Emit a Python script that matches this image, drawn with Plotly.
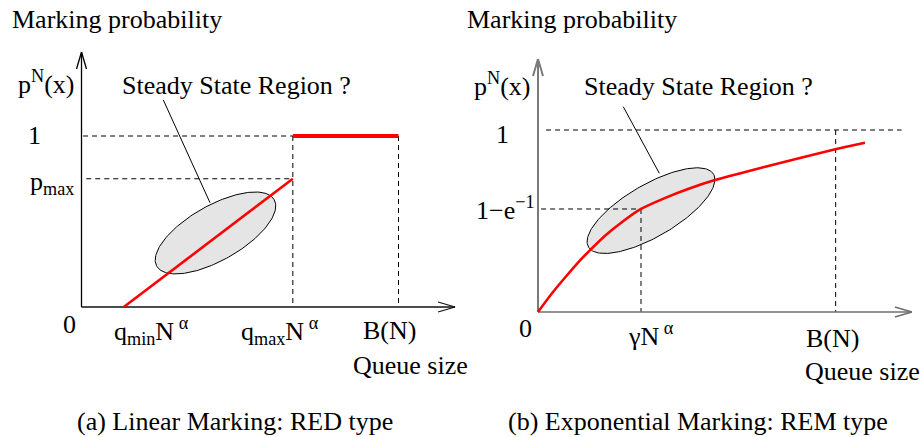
import numpy as np
import plotly.graph_objects as go

W, H = 924, 437
FONT = dict(family="Liberation Serif", size=26, color="black")

# ---------------- (a) Linear marking: RED type ----------------
red_q = [0.0, 0.4, 2.0, 3.0]                       # 0, q_min N^a, q_max N^a, B(N)
red_xticks = ["0", "q<sub>min</sub>N<sup> α</sup>", "q<sub>max</sub>N<sup> α</sup>", "B(N)"]
red_levels = [0.75, 1.0]                           # p_max, 1
red_yticks = ["p<sub>max</sub>", "1"]
red_ramp_x = [0.4, 2.0]
red_ramp_y = [0.0, 0.75]
red_flat_x = [2.0, 3.0]
red_flat_y = [1.0, 1.0]

# ---------------- (b) Exponential marking: REM type ----------------
rem_q = [0.0, 1.0, 2.89]                           # 0, gamma N^a, B(N)
rem_xticks = ["0", "γN<sup> α</sup>", "B(N)"]
rem_levels = [0.566, 1.0]                          # 1-e^-1, 1
rem_yticks = ["1−e<sup>−1</sup>", "1"]
rem_curve_x = [0.0, 0.136, 0.265, 0.395, 0.513, 0.659, 0.820, 1.0,
               1.236, 1.463, 1.702, 2.187, 2.886, 3.175]
rem_curve_y = [0.0, 0.103, 0.191, 0.276, 0.344, 0.423, 0.496, 0.566,
               0.627, 0.677, 0.722, 0.795, 0.894, 0.930]

# pixel geometry of the two panels (origin, pixels per unit, horizontal extent)
panels = {
    "a": dict(xa="x", ya="y", x0=81.5, y0=307.0, sx=105.67, sy=171.0, left=0, right=462),
    "b": dict(xa="x2", ya="y2", x0=538.0, y0=312.0, sx=103.0, sy=182.0, left=462, right=924),
}

fig = go.Figure()


def line(p, xs, ys, color="black", width=1.0, dash=None, shape="linear"):
    fig.add_trace(go.Scatter(
        x=xs, y=ys, mode="lines", xaxis=p["xa"], yaxis=p["ya"],
        line=dict(color=color, width=width, dash=dash, shape=shape, smoothing=0.8),
        hoverinfo="skip", showlegend=False))


def arrow(p, xa, ya, xb, yb, color="black", width=1.2, length=17.0, half=5.0):
    """Axis line from (xa, ya) to (xb, yb) with an open chevron head."""
    line(p, [xa, xb], [ya, yb], color=color, width=width)
    dx, dy = (xb - xa) * p["sx"], (yb - ya) * p["sy"]
    n = np.hypot(dx, dy)
    ux, uy = dx / n, dy / n
    vx, vy = -uy, ux
    hx, hy = [], []
    for s in (1, -1):
        bx = -length * ux + s * half * vx
        by = -length * uy + s * half * vy
        hx += [xb + bx / p["sx"], xb, None]
        hy += [yb + by / p["sy"], yb, None]
    line(p, hx, hy, color=color, width=width)


def region(p, cx, cy, a, b, tilt):
    """Shaded tilted ellipse; a, b are semi-axes in pixels."""
    t = np.linspace(0, 2 * np.pi, 200)
    th = np.radians(tilt)
    px = a * np.cos(t) * np.cos(th) - b * np.sin(t) * np.sin(th)
    py = a * np.cos(t) * np.sin(th) + b * np.sin(t) * np.cos(th)
    fig.add_trace(go.Scatter(
        x=cx + px / p["sx"], y=cy + py / p["sy"], mode="lines", fill="toself",
        fillcolor="#e5e5e5", line=dict(color="black", width=1),
        xaxis=p["xa"], yaxis=p["ya"], hoverinfo="skip", showlegend=False))


DASH = "5px,4px"

# ----- panel (a) -----
pa = panels["a"]
region(pa, 1.268, 0.433, 67.5, 27.5, 29.5)
line(pa, [0.015, red_q[2]], [red_levels[1]] * 2, dash=DASH)
line(pa, [0.045, red_q[2]], [red_levels[0]] * 2, dash=DASH)
line(pa, [red_q[2]] * 2, [red_levels[1], 0], dash=DASH)
line(pa, [red_q[3]] * 2, [red_levels[1], 0], dash=DASH)
line(pa, [0.774, 1.216], [1.211, 0.610], width=1)
arrow(pa, 0, 0, 3.535, 0, color="#111111", width=1.3)
arrow(pa, 0, 0, 0, 1.491, color="black", width=1.3)
line(pa, red_ramp_x, red_ramp_y, color="#ff0000", width=2.6)
line(pa, red_flat_x, red_flat_y, color="#ff0000", width=4)

# ----- panel (b) -----
pb = panels["b"]
region(pb, 1.097, 0.557, 72.4, 26.1, 30.2)
line(pb, [0.078, 3.53], [rem_levels[1]] * 2, dash=DASH)
line(pb, [rem_q[2]] * 2, [rem_levels[1], 0], dash=DASH)
line(pb, [0.03, rem_q[1]], [rem_levels[0]] * 2, dash=DASH)
line(pb, [rem_q[1]] * 2, [rem_levels[0], 0], dash=DASH)
line(pb, [0.828, 1.178], [1.128, 0.762], width=1)
arrow(pb, 0, 0, 3.63, 0, color="#6e6e6e", width=1.6)
arrow(pb, 0, 0, 0, 1.39, color="#7a7a7a", width=2.0)
line(pb, rem_curve_x, rem_curve_y, color="#ff0000", width=2.6, shape="spline")

# ----- text -----
ann = []


def txt(px, py, text):
    ann.append(dict(x=px / W, y=1 - py / H, xref="paper", yref="paper", text=text,
                    showarrow=False, xanchor="center", yanchor="middle", font=FONT))


def tick(p, x, y, text, dx, dy):
    ann.append(dict(x=x, y=y, xref=p["xa"], yref=p["ya"], text=text, showarrow=False,
                    xanchor="center", yanchor="middle", xshift=dx, yshift=dy, font=FONT))


txt(117, 20, "Marking probability")
txt(572, 20, "Marking probability")
txt(236, 85, "Steady State Region ?")
txt(698, 86, "Steady State Region ?")
txt(46, 82, "p<sup>N</sup>(x)")
txt(502, 84, "p<sup>N</sup>(x)")
txt(410, 365, "Queue size")
txt(862, 371, "Queue size")
txt(235, 421, "(a) Linear Marking: RED type")
txt(698, 421, "(b) Exponential Marking: REM type")

# tick labels of panel (a)
for q, lab, dx, dy in zip(red_q, red_xticks, [-12.5, 28, -13, -9.5], [-17, -24, -24, -23]):
    tick(pa, q, 0, lab, dx, dy)
for lv, lab, dx, dy in zip(red_levels, red_yticks, [-29.5, -47.5], [-4, 1]):
    tick(pa, 0, lv, lab, dx, dy)

# tick labels of panel (b)
for q, lab, dx, dy in zip(rem_q, rem_xticks, [-13, 10, -3.5], [-16, -22, -26]):
    tick(pb, q, 0, lab, dx, dy)
for lv, lab, dx, dy in zip(rem_levels, rem_yticks, [-33, -36], [0, -4]):
    tick(pb, 0, lv, lab, dx, dy)


def axis_range(p):
    xr = [(p["left"] - p["x0"]) / p["sx"], (p["right"] - p["x0"]) / p["sx"]]
    yr = [-(H - p["y0"]) / p["sy"], p["y0"] / p["sy"]]
    return xr, yr


xr_a, yr_a = axis_range(pa)
xr_b, yr_b = axis_range(pb)
hidden = dict(visible=False, showgrid=False, zeroline=False, fixedrange=True)

fig.update_layout(
    width=W, height=H, autosize=False,
    margin=dict(l=0, r=0, t=0, b=0),
    paper_bgcolor="white", plot_bgcolor="white",
    showlegend=False,
    xaxis=dict(domain=[0, 0.5], range=xr_a, **hidden),
    yaxis=dict(domain=[0, 1], range=yr_a, **hidden),
    xaxis2=dict(domain=[0.5, 1], range=xr_b, anchor="y2", **hidden),
    yaxis2=dict(domain=[0, 1], range=yr_b, anchor="x2", **hidden),
    annotations=ann,
)

fig.write_html("out.html")
